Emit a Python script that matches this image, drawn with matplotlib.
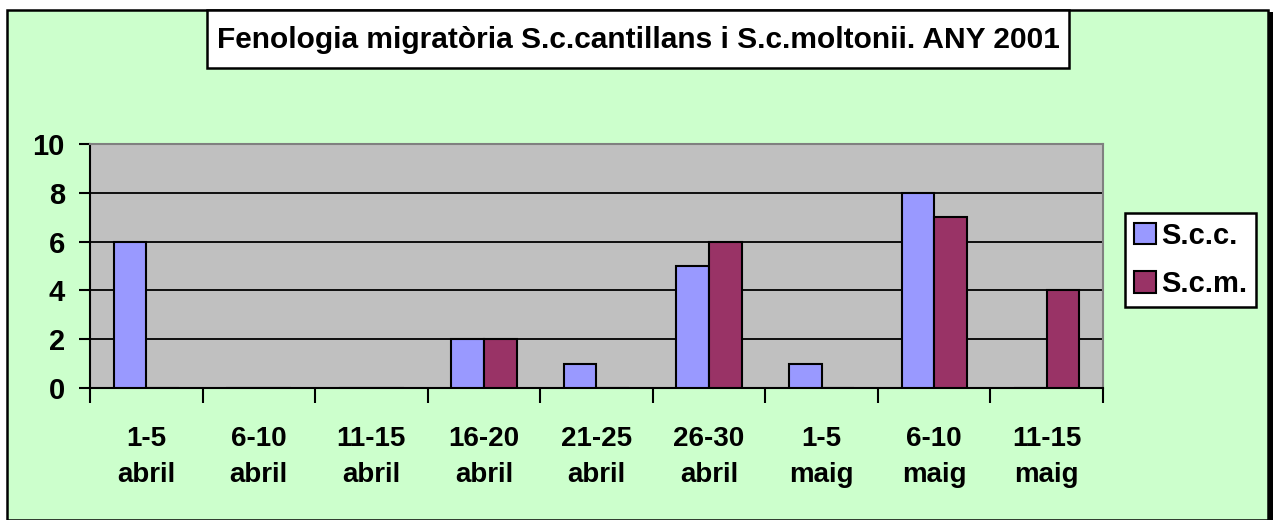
import numpy as np
import matplotlib.pyplot as plt
from matplotlib.patches import Rectangle

plt.rcParams['font.family'] = ['Liberation Sans', 'DejaVu Sans']
plt.rcParams['font.weight'] = 'bold'

# data
periodes = ['1-5\nabril', '6-10\nabril', '11-15\nabril', '16-20\nabril', '21-25\nabril',
            '26-30\nabril', '1-5\nmaig', '6-10\nmaig', '11-15\nmaig']
scc = [6, 0, 0, 2, 1, 5, 1, 8, 0]
scm = [0, 0, 0, 2, 0, 6, 0, 7, 4]
titol = 'Fenologia migratòria S.c.cantillans i S.c.moltonii. ANY 2001'

W, H = 1273, 520
fig = plt.figure(figsize=(W / 100, H / 100), dpi=100)
fig.patch.set_facecolor('white')

# green chart area with black border (shadow on right)
fig.patches.append(Rectangle((7 / W, 0), 1261 / W, 1 - 10 / H, transform=fig.transFigure,
                             facecolor='#CCFFCC', edgecolor='black', linewidth=1.8, zorder=-3))
fig.patches.append(Rectangle((1268 / W, 0), 5 / W, 1 - 12 / H, transform=fig.transFigure,
                             facecolor='black', edgecolor='none', zorder=-3))

# title box
fig.patches.append(Rectangle((207 / W, 1 - 68 / H), 862 / W, 58 / H, transform=fig.transFigure,
                             facecolor='white', edgecolor='black', linewidth=1.8, zorder=-2))
fig.text(638 / W, 1 - 40 / H, titol, ha='center', va='center', fontsize=21.5, fontweight='bold')

ax = fig.add_axes([90 / W, 1 - 388 / H, 1013 / W, 244 / H])
ax.set_facecolor('#C0C0C0')

x = np.arange(len(periodes))
w = 0.29
ax.bar(x - w / 2, scc, w, color='#9999FF', edgecolor='black', linewidth=1.5, label='S.c.c.', zorder=3)
ax.bar(x + w / 2, scm, w, color='#993366', edgecolor='black', linewidth=1.5, label='S.c.m.', zorder=3)

ax.set_xlim(-0.5, len(periodes) - 0.5)
ax.set_ylim(0, 10)
ax.set_yticks([0, 2, 4, 6, 8, 10])
for v in [2, 4, 6, 8]:
    ax.axhline(v, color='black', linewidth=1.3, zorder=1)

ax.set_xticks(np.arange(len(periodes) + 1) - 0.5)
ax.set_xticklabels([])
ax.set_xticks(x, minor=True)
ax.set_xticklabels(periodes, minor=True, fontsize=20, fontweight='bold', linespacing=1.5)
ax.tick_params(axis='x', which='minor', length=0, pad=27)
ax.tick_params(axis='x', which='major', length=11, width=1.5, direction='out')
ax.tick_params(axis='y', length=8, width=1.5, pad=10, labelsize=21)
for lab in ax.get_yticklabels():
    lab.set_fontweight('bold')

ax.spines['left'].set_linewidth(1.5)
ax.spines['bottom'].set_linewidth(1.5)
ax.spines['top'].set_color('#808080')
ax.spines['right'].set_color('#808080')
ax.spines['top'].set_linewidth(1.5)
ax.spines['right'].set_linewidth(1.5)

leg = fig.legend(loc='upper left', bbox_to_anchor=(1125 / W, 1 - 213 / H), frameon=True,
                 fancybox=False, edgecolor='black', framealpha=1, fontsize=21,
                 handlelength=0.75, handleheight=0.75, handletextpad=0.2, labelspacing=0.7,
                 borderpad=0.3, borderaxespad=0)
leg.get_frame().set_linewidth(1.8)
for t in leg.get_texts():
    t.set_fontweight('bold')

fig.savefig('out.png', dpi=100)
